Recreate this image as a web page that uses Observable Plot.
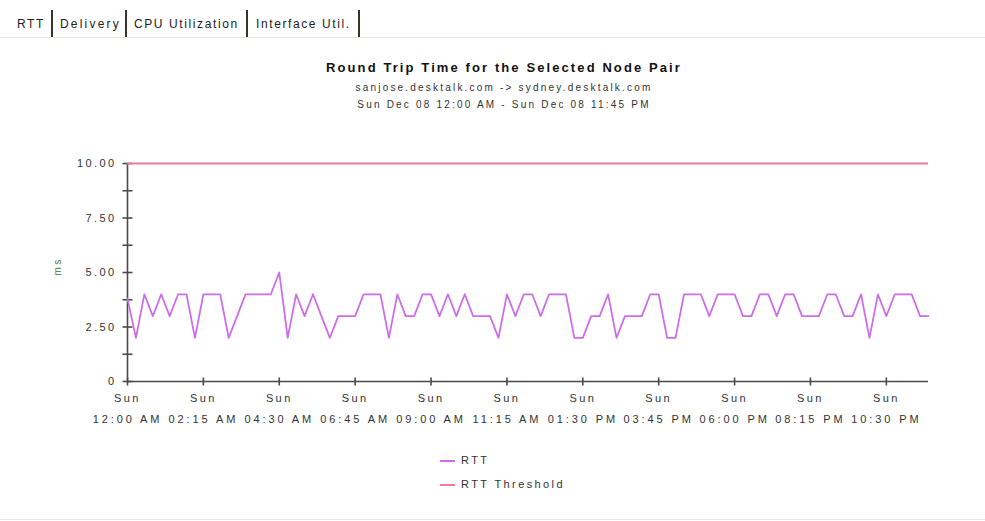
<!DOCTYPE html>
<html>
<head>
<meta charset="utf-8">
<script src="https://cdn.jsdelivr.net/npm/d3@7"></script>
<script src="https://cdn.jsdelivr.net/npm/@observablehq/plot@0.6"></script>
<style>
  body { margin: 0; background: #fff; font-family: "Liberation Sans", Arial, sans-serif; }
  #page { position: relative; width: 985px; height: 521px; overflow: hidden; background: #fff; }
  .panel { position: absolute; left: 0; top: 37px; width: 985px; height: 483px;
           border-top: 1px solid #ebe7e2; border-bottom: 1px solid #ebe7e2; box-sizing: border-box; }
  .tab { position: absolute; top: 12px; height: 25px; font-size: 12px; color: #222;
         letter-spacing: 1.6px; line-height: 25px; }
  .tabbar { position: absolute; top: 10px; width: 2px; height: 27px; background: #3a332b; }
  .title { position: absolute; left: 0; width: 1008px; text-align: center; color: #111; }
  .t1 { top: 60px; font-size: 13px; font-weight: bold; letter-spacing: 2.1px; }
  .t2 { top: 82px; font-size: 10px; letter-spacing: 2.2px; color: #333; }
  .t3 { top: 99px; font-size: 10px; letter-spacing: 2.2px; color: #333; }
  #chart { position: absolute; left: 0; top: 140px; }
  .legend { position: absolute; left: 440px; font-size: 11px; color: #333; letter-spacing: 2.4px; }
  .legend i { display: inline-block; width: 15px; height: 2px; vertical-align: middle; margin-right: 6px; }
  #chart text { letter-spacing: 2.4px; }
  #chart g.time-labels text { letter-spacing: 2.9px; }
</style>
</head>
<body>
<div id="page">
  <div class="panel"></div>
  <div class="tab" style="left:17px">RTT</div>
  <div class="tabbar" style="left:51px"></div>
  <div class="tab" style="left:60px; letter-spacing:2.2px">Delivery</div>
  <div class="tabbar" style="left:125px"></div>
  <div class="tab" style="left:134px">CPU Utilization</div>
  <div class="tabbar" style="left:246px"></div>
  <div class="tab" style="left:256px">Interface Util.</div>
  <div class="tabbar" style="left:358px"></div>

  <div class="title t1">Round Trip Time for the Selected Node Pair</div>
  <div class="title t2">sanjose.desktalk.com -&gt; sydney.desktalk.com</div>
  <div class="title t3">Sun Dec 08 12:00 AM - Sun Dec 08 11:45 PM</div>

  <div id="chart"></div>

  <div class="legend" id="legend-rtt" style="top:454px"></div>
  <div class="legend" id="legend-thr" style="top:478px"></div>
</div>
<script>
// Round trip time samples (ms), one every 15 minutes from 12:00 AM to 11:45 PM
const rtt = [
  3.8, 2, 4, 3, 4, 3, 4, 4, 2, 4, 4, 4, 2, 3, 4, 4, 4, 4, 5, 2, 4, 3, 4, 3,
  2, 3, 3, 3, 4, 4, 4, 2, 4, 3, 3, 4, 4, 3, 4, 3, 4, 3, 3, 3, 2, 4, 3, 4,
  4, 3, 4, 4, 4, 2, 2, 3, 3, 4, 2, 3, 3, 3, 4, 4, 2, 2, 4, 4, 4, 3, 4, 4,
  4, 3, 3, 4, 4, 3, 4, 4, 3, 3, 3, 4, 4, 3, 3, 4, 2, 4, 3, 4, 4, 4, 3, 3
];
const rttThreshold = 10;

// Series names and colours
const seriesNames = ["RTT", "RTT Threshold"];
const seriesColors = ["#cc6eea", "#ec7b9c"];

// Time axis: start of day and sampling step
const startTime = Date.UTC(2002, 11, 8, 0, 0);
const stepMinutes = 15;
const xTickDay = "Sun";
const xTickLabels = ["12:00 AM", "02:15 AM", "04:30 AM", "06:45 AM", "09:00 AM", "11:15 AM",
                     "01:30 PM", "03:45 PM", "06:00 PM", "08:15 PM", "10:30 PM"];
const xTickEverySamples = 9;

// Value axis
const yDomain = [0, 10];
const yMajorTicks = [0, 2.5, 5, 7.5, 10];
const yMajorLabels = ["0", "2.50", "5.00", "7.50", "10.00"];
const yMinorTicks = [1.25, 3.75, 6.25, 8.75];
const yAxisTitle = "ms";

const stepMs = stepMinutes * 60 * 1000;
const rows = rtt.map((v, i) => ({t: new Date(startTime + i * stepMs), v}));
const xDomain = [rows[0].t, rows[rows.length - 1].t];
const xTicks = xTickLabels.map((_, i) => new Date(startTime + i * xTickEverySamples * stepMs));
const xLabelOf = new Map(xTicks.map((d, i) => [+d, xTickLabels[i]]));
const yLabelOf = new Map(yMajorTicks.map((d, i) => [d, yMajorLabels[i]]));
const yTickAll = [...yMajorTicks, ...yMinorTicks];

// Short crossing tick marks drawn as custom dot symbols
const hTick = {draw(ctx) { ctx.moveTo(-5, 0); ctx.lineTo(5, 0); }};
const vTick = {draw(ctx) { ctx.moveTo(0, -4); ctx.lineTo(0, 4); }};

const axisColor = "#4a4a4a";

const chart = Plot.plot({
  width: 985,
  height: 291,
  marginLeft: 127,
  marginRight: 57,
  marginTop: 23,
  marginBottom: 50,
  style: {fontFamily: "'Liberation Sans', Arial, sans-serif", fontSize: "11px", color: "#333", background: "transparent"},
  x: {type: "utc", domain: xDomain},
  y: {domain: yDomain},
  marks: [
    // axis lines
    Plot.ruleY([yDomain[0]], {stroke: axisColor, strokeWidth: 1.6}),
    Plot.ruleX([xDomain[0]], {stroke: axisColor, strokeWidth: 1.6}),
    // crossing ticks
    Plot.dot(yTickAll, {x: () => xDomain[0], y: d => d, symbol: hTick, stroke: axisColor, strokeWidth: 1.6, fill: "none"}),
    Plot.dot(xTicks, {x: d => d, y: () => yDomain[0], symbol: vTick, stroke: axisColor, strokeWidth: 1.6, fill: "none"}),
    // tick labels
    Plot.axisY({ticks: yMajorTicks, tickSize: 0, tickPadding: 11, tickFormat: d => yLabelOf.get(d), label: null, fill: "#333"}),
    Plot.axisX({ticks: xTicks, tickSize: 0, tickPadding: 13, tickFormat: () => xTickDay, label: null, fill: "#333"}),
    Plot.axisX({ticks: xTicks, tickSize: 0, tickPadding: 34, tickFormat: d => xLabelOf.get(+d), label: null, fill: "#333", className: "time-labels"}),
    // y axis title
    Plot.text([yAxisTitle], {text: d => d, frameAnchor: "left", dx: -70, dy: 3, rotate: -90, fill: "#3d7d3d", fontSize: 10}),
    // series
    Plot.ruleY([rttThreshold], {stroke: seriesColors[1], strokeWidth: 2}),
    Plot.line(rows, {x: "t", y: "v", stroke: seriesColors[0], strokeWidth: 1.8})
  ]
});
document.getElementById("chart").appendChild(chart);

// legend entries
[["legend-rtt", 0], ["legend-thr", 1]].forEach(([id, k]) => {
  const el = document.getElementById(id);
  const sw = document.createElement("i");
  sw.style.background = seriesColors[k];
  el.appendChild(sw);
  el.appendChild(document.createTextNode(seriesNames[k]));
});
</script>
</body>
</html>
